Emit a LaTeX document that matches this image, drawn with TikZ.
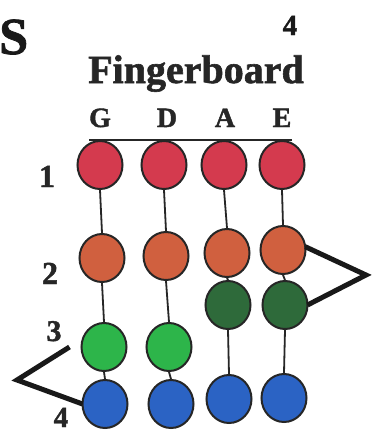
\documentclass[tikz,border=0pt]{standalone}
\usepackage{fontspec}
\setmainfont{Liberation Serif}[BoldFeatures={FakeBold=1.5}]
\usetikzlibrary{shapes.geometric}
\definecolor{cred}{HTML}{D43A4E}
\definecolor{corange}{HTML}{D0603F}
\definecolor{cdkgreen}{HTML}{2E6A3A}
\definecolor{cltgreen}{HTML}{2DB54A}
\definecolor{cblue}{HTML}{2B63C4}
\tikzset{
  dot/.style={ellipse, draw=black!85, line width=2pt, minimum width=45pt, minimum height=48pt, inner sep=0pt},
  conn/.style={line width=1.8pt, black!85},
  bracket/.style={line width=5pt, black!90, line join=miter},
  lbl/.style={inner sep=0pt, anchor=base, font=\bfseries\fontsize{32}{32}\selectfont, black!85},
}
\begin{document}
\begin{tikzpicture}[x=1pt,y=-1pt]
\useasboundingbox (0,0) rectangle (377,434);
\fill[white] (0,0) rectangle (377,434);
% titles
\node[inner sep=0pt, anchor=base west, font=\bfseries\fontsize{52}{52}\selectfont, black!90] (s) at (-1,54) {S};
\node[inner sep=0pt, anchor=base, font=\bfseries\fontsize{29}{29}\selectfont, black!90] (pg) at (290,35) {4};
\node[inner sep=0pt, anchor=base, font=\bfseries\fontsize{40}{40}\selectfont, black!85] (fb) at (196,83) {Fingerboard};
% string names
\node[lbl, font=\bfseries\fontsize{28}{28}\selectfont] (lG) at (100,127) {G};
\node[lbl, font=\bfseries\fontsize{28}{28}\selectfont] (lD) at (167,127) {D};
\node[lbl, font=\bfseries\fontsize{28}{28}\selectfont] (lA) at (225,127) {A};
\node[lbl, font=\bfseries\fontsize{28}{28}\selectfont] (lE) at (282,127) {E};
\coordinate (nutL) at (89,140);
\coordinate (nutR) at (292,140);
\draw[line width=2pt, black!85] (nutL) -- (nutR);
% row 1
\node[dot, fill=cred] (G1) at (100,165) {};
\node[dot, fill=cred] (D1) at (164,165) {};
\node[dot, fill=cred] (A1) at (224,165) {};
\node[dot, fill=cred] (E1) at (282,165) {};
% row 2
\node[dot, fill=corange] (G2) at (102,258) {};
\node[dot, fill=corange] (D2) at (166,256) {};
\node[dot, fill=corange] (A2) at (227,253) {};
\node[dot, fill=corange] (E2) at (283,250) {};
% row 3
\node[dot, fill=cdkgreen] (A3) at (228,305) {};
\node[dot, fill=cdkgreen] (E3) at (285,305) {};
\node[dot, fill=cltgreen] (G3) at (104,347) {};
\node[dot, fill=cltgreen] (D3) at (169,347) {};
% row 4
\node[dot, fill=cblue] (G4) at (105,404) {};
\node[dot, fill=cblue] (D4) at (171,404) {};
\node[dot, fill=cblue] (A4) at (229,399) {};
\node[dot, fill=cblue] (E4) at (284,398) {};
% connectors
\draw[conn] (G1.south) -- (G2.north);
\draw[conn] (G2.south) -- (G3.north);
\draw[conn] (G3.south) -- (G4.north);
\draw[conn] (D1.south) -- (D2.north);
\draw[conn] (D2.south) -- (D3.north);
\draw[conn] (D3.south) -- (D4.north);
\draw[conn] (A1.south) -- (A2.north);
\draw[conn] (A2.south) -- (A3.north);
\draw[conn] (A3.south) -- (A4.north);
\draw[conn] (E1.south) -- (E2.north);
\draw[conn] (E2.south) -- (E3.north);
\draw[conn] (E3.south) -- (E4.north);
% finger labels
\node[lbl] (n1) at (47,187) {1};
\node[lbl] (n2) at (50,284) {2};
\node[lbl, font=\bfseries\fontsize{30}{30}\selectfont] (n3) at (54,341) {3};
\node[lbl, font=\bfseries\fontsize{29}{29}\selectfont] (n4) at (61,427) {4};
% brackets
\coordinate (rv) at (366,275);
\coordinate (lv) at (17,380);
\draw[bracket] ([xshift=-1pt]E2.8) -- (rv) -- ([xshift=-1pt]E3.east);
\draw[bracket] ([xshift=-11pt]G3.west) -- (lv) -- ([xshift=1pt]G4.west);
\end{tikzpicture}
\end{document}
